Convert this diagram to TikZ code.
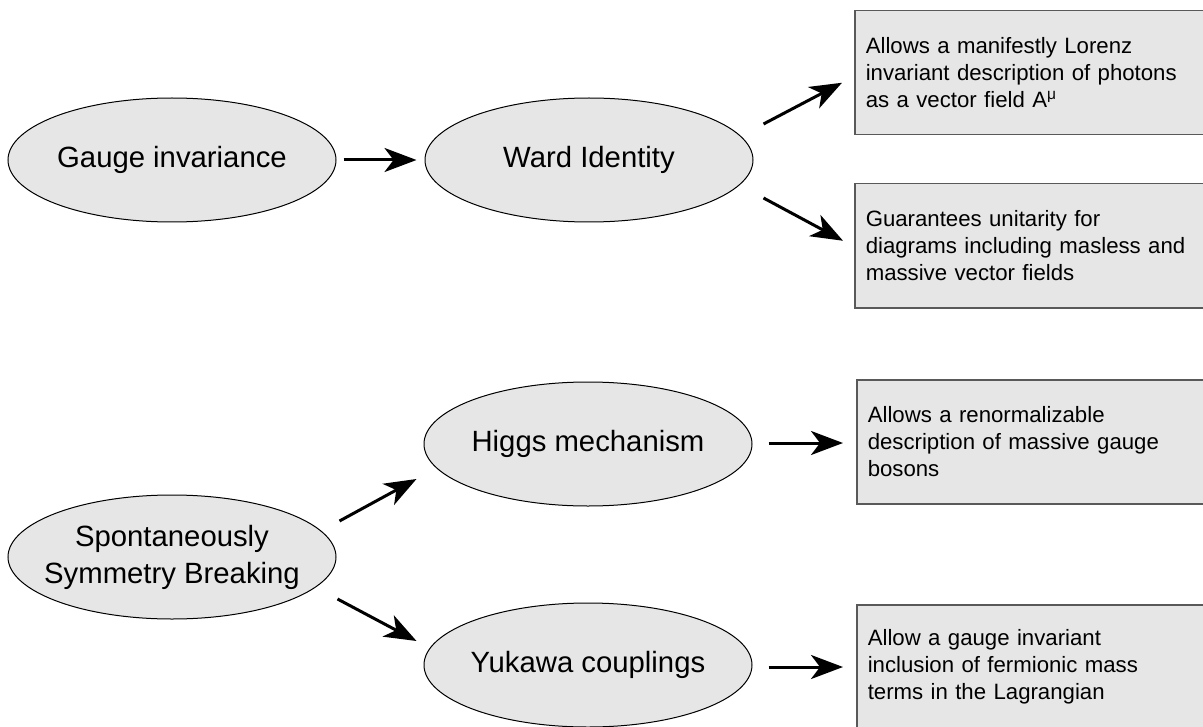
\documentclass[tikz,border=0pt]{standalone}
\usepackage{fontspec}
\setmainfont{Liberation Sans}
\usepackage{tikz}
\usetikzlibrary{arrows.meta,calc,shapes.geometric,positioning}
\definecolor{ovalfill}{HTML}{E6E6E6}
\definecolor{boxline}{HTML}{595959}
\begin{document}
\begin{tikzpicture}[x=0.5pt,y=-0.5pt,
  oval/.style={ellipse, draw=black, line width=0.5pt, fill=ovalfill,
    minimum width=164pt, minimum height=62pt, inner xsep=-20pt, inner ysep=0pt,
    align=center, font=\fontsize{14.65}{18.5}\selectfont},
  note/.style={rectangle, draw=boxline, line width=0.75pt, fill=ovalfill,
    anchor=north west, text width=164pt, inner xsep=5.5pt,
    minimum height=62pt, align=left, font=\fontsize{11.1}{13.5}\selectfont},
  arr/.style={line width=1.5pt, -{Stealth[length=16pt, width=12pt, inset=4.5pt]}}]
  \useasboundingbox (0,0) rectangle (1203,727);
  \node[oval](G) at (172,160) {Gauge invariance};
  \node[oval](W) at (589,160) {Ward Identity};
  \node[oval](H) at (588,444) {Higgs mechanism};
  \node[oval](S) at (172,557) {Spontaneously\\Symmetry Breaking};
  \node[oval](Y) at (588,665) {Yukawa couplings};
  \node[note](B1) at (854,10) {Allows a manifestly Lorenz\\
    invariant description of photons\\as a vector field A\textsuperscript{μ}};
  \node[note](B2) at (854,183) {Guarantees unitarity for\\
    diagrams including masless and\\massive vector fields};
  \node[note](B3) at (856,379) {Allows a renormalizable\\
    description of massive gauge\\bosons};
  \node[note](B4) at (856,604) {Allow a gauge invariant\\
    inclusion of fermionic mass\\terms in the Lagrangian};
  \draw[arr]($(G.east)+(7,0)$)--($(W.west)+(-8,0)$);
  \draw[arr]($(W.east)+(10,-36)$)--($(B1.west)+(-12,10)$);
  \draw[arr]($(W.east)+(10,38)$)--($(B2.west)+(-11,-5)$);
  \draw[arr]($(H.east)+(16,-1)$)--($(H.east-|B3.west)+(-13,-1)$);
  \draw[arr]($(S.east)+(3,-36)$)--($(H.west)+(-7,35)$);
  \draw[arr]($(S.east)+(1,42)$)--($(Y.west)+(-7,-24)$);
  \draw[arr]($(Y.east)+(16,2)$)--($(Y.east-|B4.west)+(-13,2)$);
\end{tikzpicture}
\end{document}
